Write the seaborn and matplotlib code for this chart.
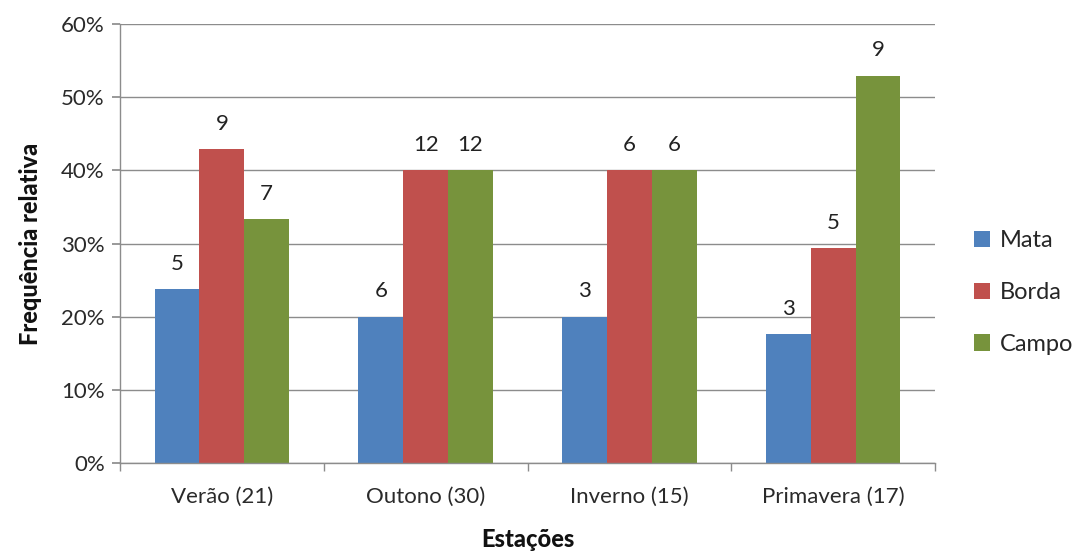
import matplotlib
matplotlib.use("Agg")
import matplotlib.pyplot as plt
from matplotlib.ticker import PercentFormatter, FixedLocator
import seaborn as sns
import pandas as pd

# Seasons with total sample size, and counts per habitat
seasons = ["Verão", "Outono", "Inverno", "Primavera"]
totals = [21, 30, 15, 17]
habitats = ["Mata", "Borda", "Campo"]
mata = [5, 6, 3, 3]
borda = [9, 12, 6, 5]
campo = [7, 12, 6, 9]

colors = ["#4F81BD", "#C0504D", "#77933C"]

sns.set_theme(style="white")
plt.rcParams["font.family"] = ["Lato", "DejaVu Sans"]

season_labels = [f"{s} ({t})" for s, t in zip(seasons, totals)]
rows = []
for hab, counts in zip(habitats, [mata, borda, campo]):
    for lab, t, c in zip(season_labels, totals, counts):
        rows.append({"Estação": lab, "Habitat": hab, "n": c, "freq": c / t})
df = pd.DataFrame(rows)

fig = plt.figure(figsize=(10.86, 5.52), dpi=100)
ax = fig.add_axes([0.1105, 0.161, 0.7505, 0.7955])

sns.barplot(data=df, x="Estação", y="freq", hue="Habitat", order=season_labels,
            hue_order=habitats, palette=colors, width=0.66, gap=0,
            saturation=1, errorbar=None, ax=ax, legend=True,
            linewidth=0, edgecolor="none")

for cont, hab in zip(ax.containers, habitats):
    counts = df[df["Habitat"] == hab]["n"].tolist()
    ax.bar_label(cont, labels=[str(c) for c in counts], padding=11,
                 fontsize=16, color="#222222")

ax.set_ylim(0, 0.6)
ax.set_xlim(-0.5, 3.5)
ax.yaxis.set_major_formatter(PercentFormatter(1.0, decimals=0))
ax.set_yticks([i / 10 for i in range(7)])
ax.grid(axis="y", color="#8c8c8c", linewidth=1)
ax.set_axisbelow(True)

for side in ["top", "right"]:
    ax.spines[side].set_visible(False)
for side in ["left", "bottom"]:
    ax.spines[side].set_color("#8c8c8c")
    ax.spines[side].set_linewidth(1)

ax.tick_params(axis="y", which="major", left=True, length=6, color="#8c8c8c",
               labelsize=16, labelcolor="#2a2a2a", pad=5)
ax.tick_params(axis="x", which="major", length=0, labelsize=16,
               labelcolor="#2a2a2a", pad=17)
ax.xaxis.set_minor_locator(FixedLocator([-0.5, 0.5, 1.5, 2.5, 3.5]))
ax.tick_params(axis="x", which="minor", bottom=True, length=6, color="#8c8c8c")

ax.set_xlabel("Estações", fontsize=17, fontweight="black", labelpad=15,
              color="#111111")
ax.set_ylabel("Frequência relativa", fontsize=17, fontweight="black",
              labelpad=14, color="#111111")

handles, labels = ax.get_legend_handles_labels()
ax.legend_.remove()
fig.legend(handles, labels, loc="center left", bbox_to_anchor=(0.877, 0.47),
           frameon=False, fontsize=17, handlelength=0.7, handleheight=0.7,
           handletextpad=0.4, labelspacing=1.3)

fig.savefig("out.png", dpi=100)
